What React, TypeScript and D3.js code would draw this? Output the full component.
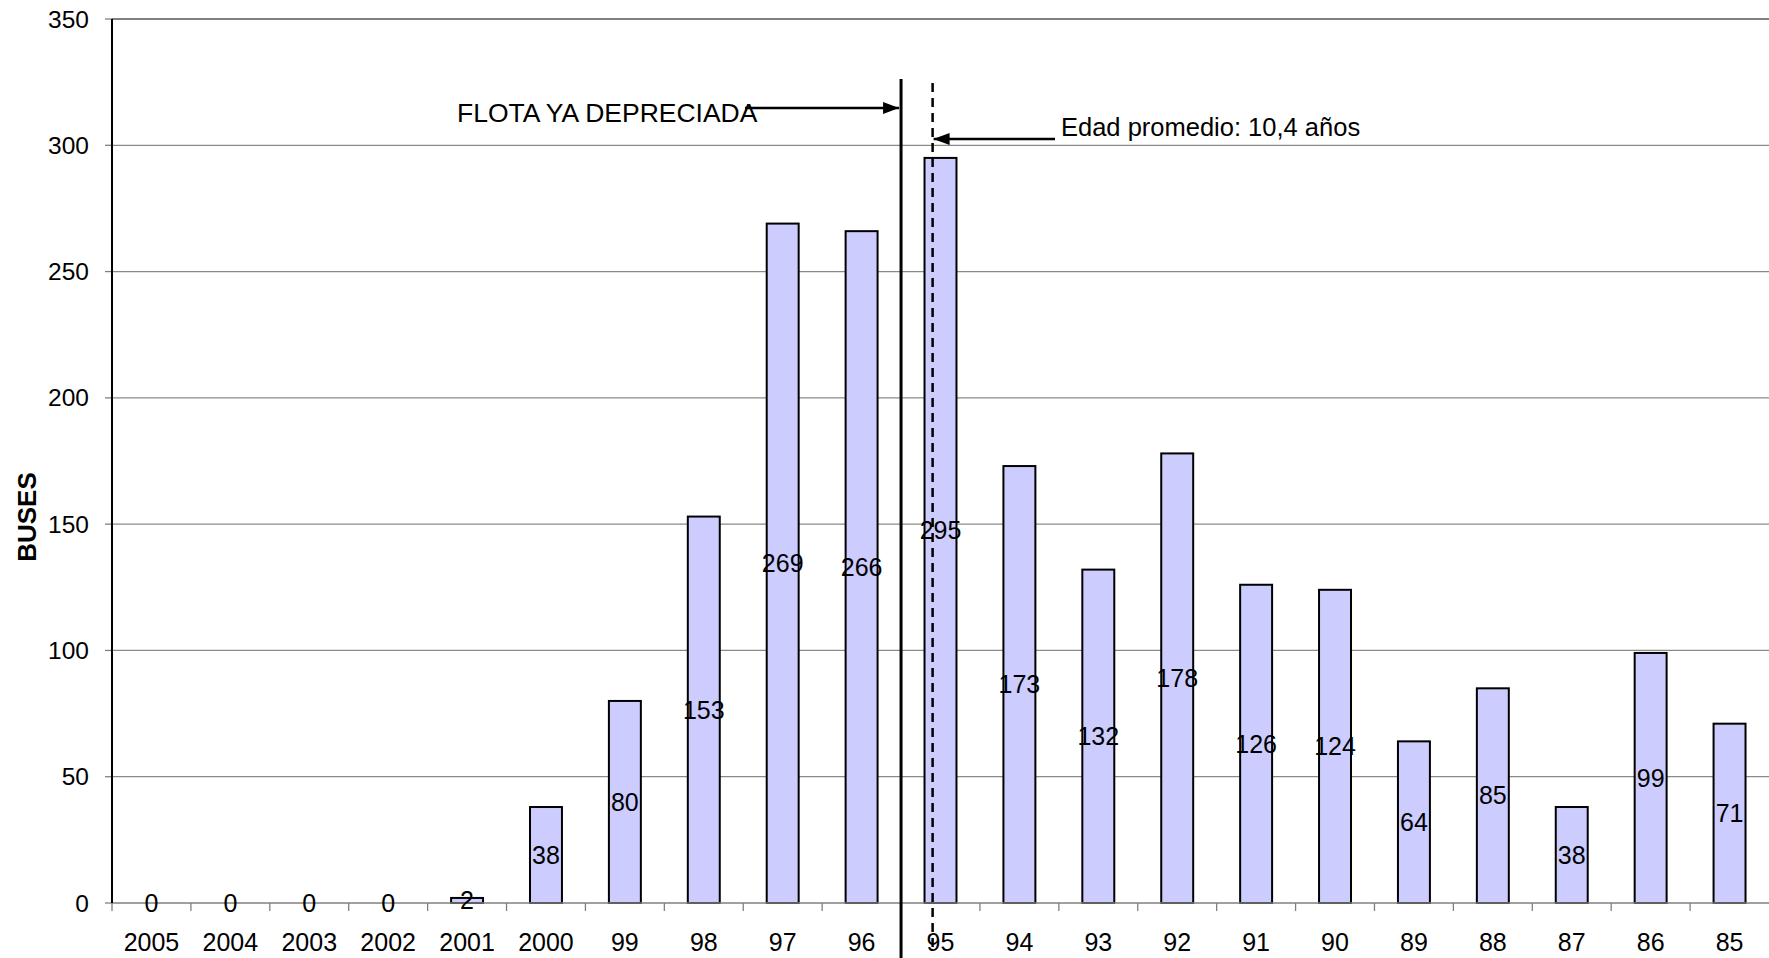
import React from 'react';
import * as d3 from 'd3';

// model year of the bus (2005 = newest)
const years = ['2005', '2004', '2003', '2002', '2001', '2000', '99', '98', '97', '96', '95', '94', '93', '92', '91', '90', '89', '88', '87', '86', '85'];
const buses = [0, 0, 0, 0, 2, 38, 80, 153, 269, 266, 295, 173, 132, 178, 126, 124, 64, 85, 38, 99, 71];
const yTicks = [0, 50, 100, 150, 200, 250, 300, 350];

// reference lines, in years of age
const depreciatedAge = 10;
const averageAge = 10.4;
const depreciatedLabel = 'FLOTA YA DEPRECIADA';
const averageLabel = 'Edad promedio: 10,4 años';

const W = 1769;
const H = 958;
const margin = { top: 19, right: 0, bottom: 55, left: 112 };
const font = 'Arial, "Liberation Sans", sans-serif';

export default function App() {
  const x = d3.scaleBand<string>().domain(years).range([margin.left, W - margin.right]).padding(0);
  const xAge = d3.scaleLinear().domain([0, years.length]).range([margin.left, W - margin.right]);
  const y = d3.scaleLinear().domain([0, 350]).range([H - margin.bottom, margin.top]);

  const barW = x.bandwidth() * 0.405;
  const base = y(0);
  const solidX = xAge(depreciatedAge);
  const dashX = xAge(averageAge);

  return (
    <svg width={W} height={H} style={{ position: 'absolute', left: 0, top: 0, display: 'block', background: '#fff' }} fontFamily={font}>
      <defs>
        <marker id="arrHead" viewBox="0 0 16 12" refX="16" refY="6" markerWidth="16" markerHeight="12" markerUnits="userSpaceOnUse" orient="auto">
          <path d="M0,0 L16,6 L0,12 z" fill="#000" />
        </marker>
      </defs>

      {/* gridlines */}
      {yTicks.filter(t => t > 0 && t < 350).map(t => (
        <line key={t} x1={margin.left} x2={W} y1={y(t)} y2={y(t)} stroke="#8a8a8a" strokeWidth={1.3} />
      ))}
      <line x1={margin.left} x2={W} y1={y(350)} y2={y(350)} stroke="#808080" strokeWidth={2} />

      {/* y ticks + labels */}
      {yTicks.map(t => (
        <g key={t}>
          <line x1={margin.left - 7} x2={margin.left} y1={y(t)} y2={y(t)} stroke="#808080" strokeWidth={1.3} />
          <text x={89} y={y(t)} dy="0.35em" textAnchor="end" fontSize={24.5} fill="#000">{t}</text>
        </g>
      ))}

      {/* bars */}
      {years.map((yr, i) => {
        const cx = (x(yr) as number) + x.bandwidth() / 2;
        return (
          <rect key={yr} x={cx - barW / 2} y={y(buses[i])} width={barW} height={base - y(buses[i])}
            fill="#CCCCFF" stroke="#000" strokeWidth={2} />
        );
      })}

      {/* baseline and category ticks */}
      <line x1={margin.left} x2={W} y1={base} y2={base} stroke="#808080" strokeWidth={1.5} />
      {years.map(yr => (
        <line key={yr} x1={x(yr) as number} x2={x(yr) as number} y1={base} y2={base + 8} stroke="#808080" strokeWidth={1.3} />
      ))}
      <line x1={margin.left} x2={margin.left} y1={margin.top} y2={base} stroke="#000" strokeWidth={2} />

      {/* x labels */}
      {years.map(yr => (
        <text key={yr} x={(x(yr) as number) + x.bandwidth() / 2} y={950.5} textAnchor="middle" fontSize={25} fill="#000">{yr}</text>
      ))}

      {/* value labels, centred on each bar */}
      {years.map((yr, i) => (
        <text key={yr} x={(x(yr) as number) + x.bandwidth() / 2} y={(y(buses[i]) + base) / 2} dy="0.35em"
          textAnchor="middle" fontSize={25} fill="#000">{buses[i]}</text>
      ))}

      {/* reference lines */}
      <line x1={solidX} x2={solidX} y1={79} y2={H} stroke="#000" strokeWidth={3} />
      <line x1={dashX} x2={dashX} y1={83} y2={952} stroke="#000" strokeWidth={2.5} strokeDasharray="9,6" />

      {/* annotations */}
      <text x={457} y={122} fontSize={26.5} fill="#000">{depreciatedLabel}</text>
      <line x1={745} x2={solidX - 2} y1={108} y2={108} stroke="#000" strokeWidth={2.5} markerEnd="url(#arrHead)" />

      <text x={1061} y={136} fontSize={25.5} fill="#000">{averageLabel}</text>
      <line x1={1055} x2={dashX + 1} y1={139} y2={139} stroke="#000" strokeWidth={2.5} markerEnd="url(#arrHead)" />

      {/* y axis title */}
      <text transform={`translate(36,517) rotate(-90)`} textAnchor="middle" fontSize={26} fontWeight="bold" fill="#000">BUSES</text>
    </svg>
  );
}
